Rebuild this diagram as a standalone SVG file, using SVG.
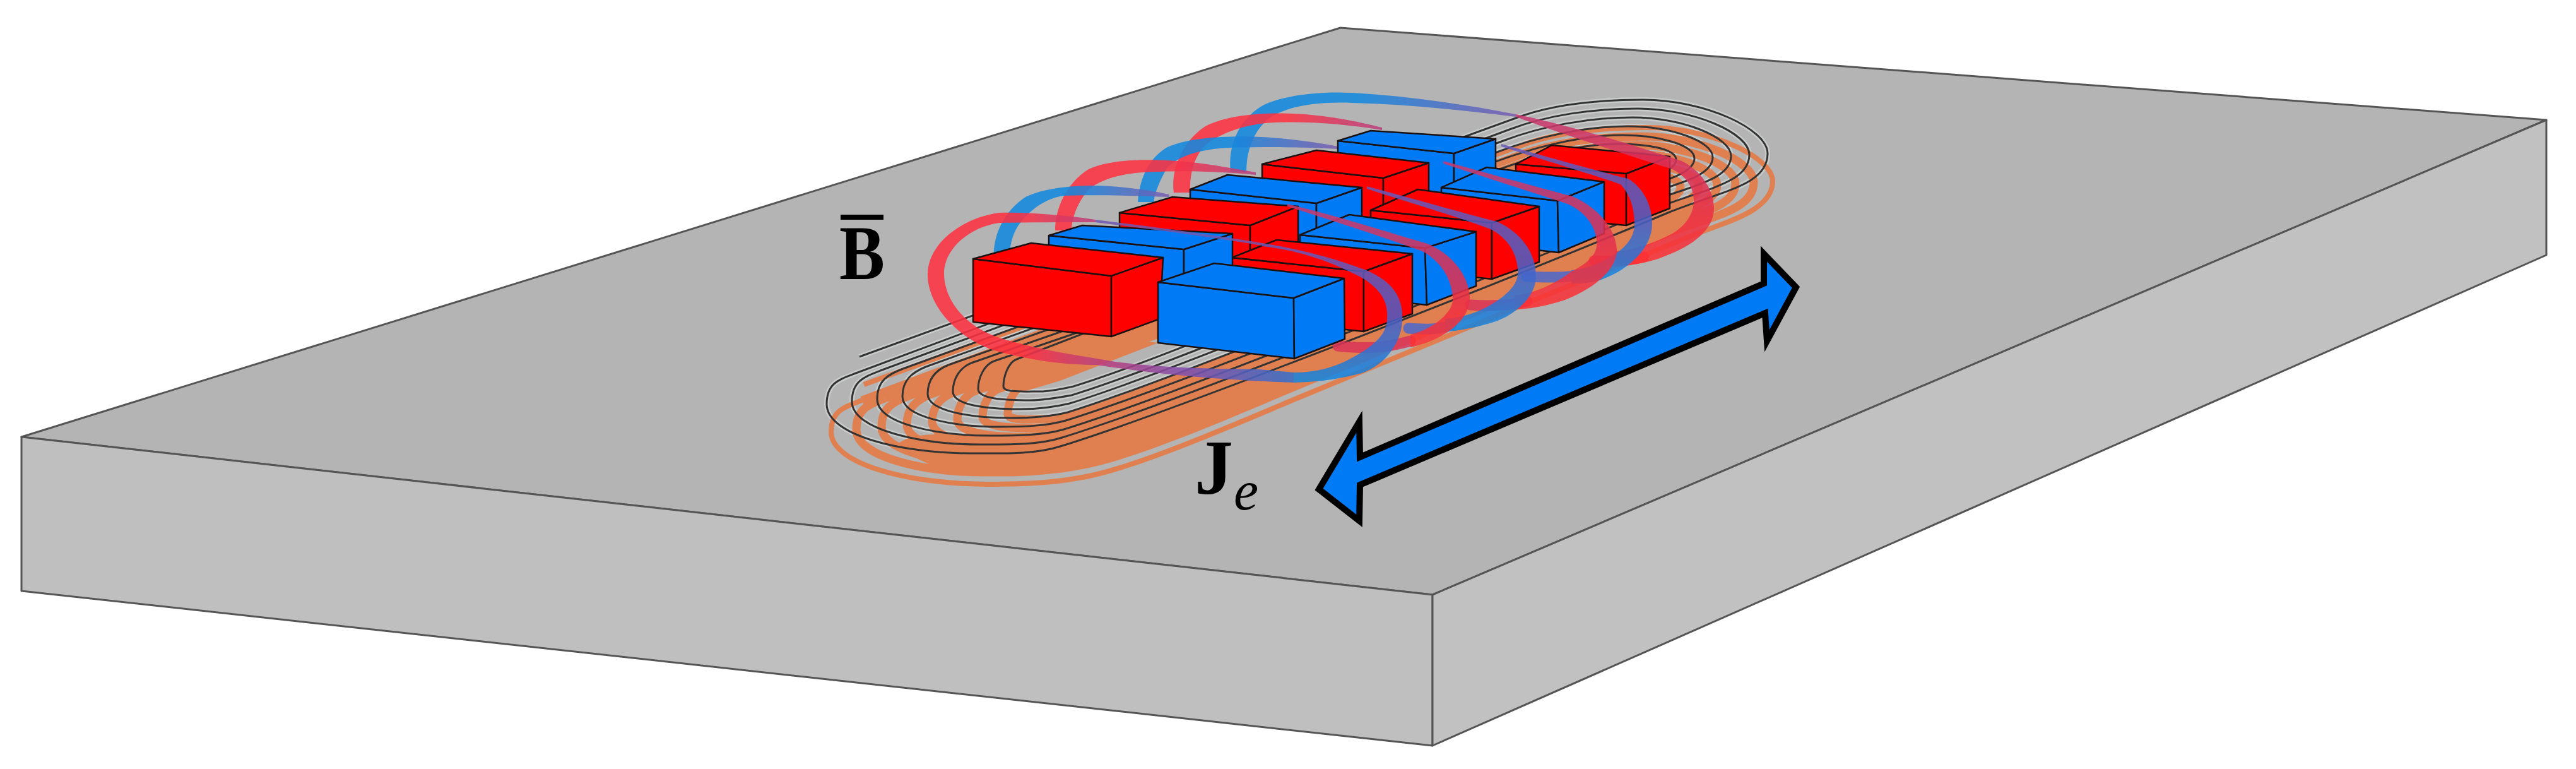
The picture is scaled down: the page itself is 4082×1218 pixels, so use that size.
<svg xmlns="http://www.w3.org/2000/svg" xmlns:xlink="http://www.w3.org/1999/xlink" width="4082" height="1218" viewBox="0 0 4082 1218">
<style>
.edge{stroke:#555;stroke-width:3;stroke-linejoin:round}
.r polygon{fill:#ff0000}
.b polygon{fill:#007af5}
.r polygon,.b polygon{stroke:#1a1010;stroke-width:2.5;stroke-linejoin:round}
.coil use{fill:none}
.halo use{stroke:#d2d4d4;stroke-width:8;opacity:.75}
.ow use{stroke:#e08050;stroke-width:13}
.orange{fill:#e08050}
.bl use{stroke:#333;stroke-width:3}
.loop{opacity:.86}
.tail{fill:none;stroke-width:17;stroke-linecap:round}
.lbl{font-family:"Liberation Serif",serif;fill:#000}
</style>
<defs>
<linearGradient id="r2c"><stop offset="0" stop-color="#ff3040"/><stop offset=".55" stop-color="#ff3040"/><stop offset="1" stop-color="#b84080"/></linearGradient>
<linearGradient id="b2p"><stop offset="0" stop-color="#1088e0"/><stop offset=".45" stop-color="#1088e0"/><stop offset="1" stop-color="#7a5cb0"/></linearGradient>
<linearGradient id="p2b" x2="0" y2="1"><stop offset="0" stop-color="#6a58b8"/><stop offset=".55" stop-color="#4a60c8"/><stop offset="1" stop-color="#1088e0"/></linearGradient>
<linearGradient id="m2r" x2="0" y2="1"><stop offset="0" stop-color="#c83a70"/><stop offset=".5" stop-color="#e03050"/><stop offset="1" stop-color="#ff3030"/></linearGradient>
<linearGradient id="c2b"><stop offset="0" stop-color="#c03a78"/><stop offset=".45" stop-color="#8050b0"/><stop offset="1" stop-color="#3070d0"/></linearGradient>
<path id="t0" d="M1359 590C1331 601 1310 605 1310 640C1310 690 1430 718 1537 718C1587 718 1640 720 1680 707C1830 661 2300 480 2643 337C2733 301 2801 293 2801 243C2801 205 2703 158 2603 158C2533 158 2462 164 2402 187L1362 565"/>
<path id="t1" d="M1395 587C1369 597 1350 604 1350 636C1350 680 1457 704 1553 704C1598 704 1646 705 1683 693C1833 647 2278 474 2621 331C2701 299 2772 290 2772 245C2772 211 2684 172 2595 172C2525 172 2452 182 2392 205L1359 590"/>
<path id="t2" d="M1431 584C1407 593 1390 603 1390 632C1390 671 1484 690 1569 690C1609 690 1652 690 1686 680C1836 634 2256 468 2599 325C2669 297 2743 287 2743 247C2743 217 2665 186 2587 186C2517 186 2442 200 2382 223L1395 587"/>
<path id="t3" d="M1467 581C1445 590 1430 602 1430 628C1430 661 1511 676 1585 676C1620 676 1658 675 1689 666C1839 620 2234 462 2577 319C2637 295 2714 284 2714 249C2714 223 2646 200 2579 200C2509 200 2432 218 2372 241L1431 584"/>
<path id="t4" d="M1503 578C1483 586 1470 601 1470 624C1470 651 1538 662 1601 662C1631 662 1664 660 1692 653C1842 607 2212 456 2555 313C2605 293 2685 281 2685 251C2685 229 2627 214 2571 214C2501 214 2422 236 2362 259L1467 581"/>
<path id="t5" d="M1539 575C1521 582 1510 600 1510 620C1510 642 1565 648 1617 648C1642 648 1670 645 1695 639C1845 593 2190 450 2533 307C2573 291 2656 278 2656 253C2656 235 2608 228 2563 228C2493 228 2412 254 2352 277L1503 578"/>
<path id="t6" d="M1575 572C1559 578 1550 599 1550 616C1550 632 1592 634 1633 634C1653 634 1676 630 1698 626C1848 580 2168 444 2511 301C2541 289 2627 275 2627 255C2627 241 2589 242 2555 242C2485 242 2402 272 2342 295L1539 575"/>
<path id="t7" d="M1790 500L1611 569C1597 574 1590 598 1590 612C1590 622 1619 620 1649 620C1664 620 1682 616 1701 612C1851 566 2146 438 2489 295C2509 287 2598 272 2598 257C2598 247 2570 256 2547 256C2477 256 2392 290 2332 313L1575 572"/>
</defs>

<g id="plate">
<polygon class="edge" fill="#b4b4b4" points="2124,44 4035,190 2270,942 34,692"/>
<polygon class="edge" fill="#bfbfbf" points="34,692 2270,942 2270,1181 34,936"/>
<polygon class="edge" fill="#c1c1c1" points="2270,942 4035,190 4035,404 2270,1181"/>
</g>

<g id="coil" class="coil">
<g class="halo">
<use xlink:href="#t0"/><use xlink:href="#t1"/><use xlink:href="#t2"/><use xlink:href="#t3"/><use xlink:href="#t4"/><use xlink:href="#t5"/><use xlink:href="#t6"/><use xlink:href="#t7"/>
</g>
<path fill="none" stroke="#e08050" stroke-width="8" d="M1366 634C1338 645 1317 650 1317 684C1317 734 1437 767 1566 767C1620 767 1670 765 1709 757C1790 745 1950 675 2050 633L2420 480L2689 370C2730 353 2809 335 2809 287C2809 249 2710 202 2610 202C2540 202 2469 208 2409 231L1369 609"/>
<path class="orange" d="M1420 705C1460 735 1510 754 1566 754C1620 754 1670 752 1709 744C1790 732 1950 662 2050 620L2420 467L2689 357L2660 320L1700 680L1569 690C1500 690 1450 680 1420 705Z"/>
<polygon class="orange" points="1594,610 1760,533 1835,543 1680,603 1623,620"/>
<g class="ow">
<use xlink:href="#t1" transform="translate(7,44)"/>
<use xlink:href="#t2" transform="translate(7,44)"/>
<use xlink:href="#t3" transform="translate(7,44)"/>
<use xlink:href="#t4" transform="translate(7,44)"/>
<use xlink:href="#t5" transform="translate(7,44)"/>
<use xlink:href="#t6" transform="translate(7,44)"/>
<use xlink:href="#t7" transform="translate(7,44)"/>
</g>
<g class="bl">
<use xlink:href="#t0"/><use xlink:href="#t1"/><use xlink:href="#t2"/><use xlink:href="#t3"/><use xlink:href="#t4"/><use xlink:href="#t5"/><use xlink:href="#t6"/><use xlink:href="#t7"/>
</g>
</g>

<g id="loops-under">
<path class="loop" fill="url(#b2p)" d="M1950 272C1945 230 1965 185 2005 165C2045 148 2100 145 2143 147C2230 152 2320 165 2402 181L2402 185C2320 175 2230 165 2143 163C2095 161 2050 166 2020 182C1990 198 1975 235 1975 272Z"/>
<path class="loop" fill="url(#r2c)" d="M1860 305C1855 270 1872 225 1910 200C1945 182 2000 178 2050 180C2100 182 2150 192 2190 202L2190 206C2130 196 2070 192 2020 194C1975 196 1935 210 1910 230C1890 250 1885 280 1886 305Z"/>
<path class="loop" fill="url(#b2p)" d="M1803 320C1805 285 1820 250 1850 233C1890 215 1960 215 2000 217C2050 220 2090 226 2120 232L2120 236C2060 232 2000 233 1950 234C1910 235 1870 245 1850 265C1838 285 1830 305 1828 320Z"/>
<path class="loop" fill="url(#r2c)" d="M1672 365C1672 330 1690 290 1725 268C1765 250 1830 252 1880 256C1920 260 1960 268 1990 273L1990 277C1950 273 1890 270 1840 272C1790 272 1750 280 1725 300C1708 320 1698 345 1698 365Z"/>
<path class="loop" fill="url(#b2p)" d="M1575 412C1572 375 1590 335 1625 312C1660 295 1720 292 1760 295C1800 298 1830 303 1853 308L1853 312C1800 310 1730 308 1685 310C1650 315 1615 345 1605 375C1600 390 1600 400 1600 412Z"/>
<path class="loop tail" stroke="#ff3038" d="M2605 407C2575 415 2550 415 2526 413"/>
<path class="loop tail" stroke="#4a68cc" d="M2537 430C2500 440 2460 440 2419 438"/>
<path class="loop tail" stroke="#d83458" d="M2420 477C2390 485 2360 485 2330 483"/>
<path class="loop tail" stroke="#4a68cc" d="M2300 515C2280 522 2260 522 2232 520"/>
<path class="loop tail" stroke="#d83458" d="M2235 540C2190 553 2160 552 2120 548"/>
</g>

<g id="magnets">
<g id="blue-6" class="b"><polygon points="2120,223 2304,243 2304,318 2120,298"/><polygon points="2304,243 2370,220 2370,295 2304,318"/><polygon points="2120,223 2172,207 2370,220 2304,243"/></g>
<g id="red-6" class="r"><polygon points="2402,260 2577,275 2577,357 2402,341"/><polygon points="2577,275 2646,248 2646,330 2577,357"/><polygon points="2402,260 2459,230 2646,248 2577,275"/></g>
<g id="blue-5" class="b"><polygon points="2284,297 2468,318 2470,400 2284,379"/><polygon points="2468,318 2542,288 2542,370 2470,400"/><polygon points="2284,297 2356,265 2542,288 2468,318"/></g>
<g id="red-5" class="r"><polygon points="2000,260 2192,282 2192,359 2000,337"/><polygon points="2192,282 2264,258 2264,335 2192,359"/><polygon points="2000,260 2086,238 2264,258 2192,282"/></g>
<g id="red-4" class="r"><polygon points="2172,333 2364,353 2364,442 2172,421"/><polygon points="2364,353 2439,327 2439,415 2364,442"/><polygon points="2172,333 2247,300 2439,327 2364,353"/></g>
<g id="blue-4" class="b"><polygon points="1886,300 2086,322 2086,400 1886,378"/><polygon points="2086,322 2158,297 2158,375 2086,400"/><polygon points="1886,300 1945,277 2158,297 2086,322"/></g>
<g id="blue-3" class="b"><polygon points="2060,372 2258,393 2261,483 2060,462"/><polygon points="2258,393 2339,367 2339,453 2261,483"/><polygon points="2060,372 2138,340 2339,367 2258,393"/></g>
<g id="red-3" class="r"><polygon points="1774,337 1981,357 1981,440 1774,420"/><polygon points="1981,357 2057,327 2057,410 1981,440"/><polygon points="1774,337 1858,312 2057,327 1981,357"/></g>
<g id="red-2" class="r"><polygon points="1952,408 2161,430 2161,525 1952,503"/><polygon points="2161,430 2238,402 2238,497 2161,525"/><polygon points="1952,408 2023,380 2238,402 2161,430"/></g>
<g id="blue-2" class="b"><polygon points="1662,373 1876,395 1876,483 1662,461"/><polygon points="1876,395 1953,370 1953,458 1876,483"/><polygon points="1662,373 1715,357 1953,370 1876,395"/></g>
<g id="red-1" class="r"><polygon points="1542,410 1761,437 1761,533 1542,510"/><polygon points="1761,437 1843,408 1838,505 1761,533"/><polygon points="1542,410 1634,385 1843,408 1761,437"/></g>
<g id="blue-1" class="b"><polygon points="1835,447 2050,472 2051,568 1835,543"/><polygon points="2050,472 2130,441 2131,537 2051,568"/><polygon points="1835,447 1924,417 2130,441 2050,472"/></g>
</g>

<g id="loops-over">
<path class="loop" fill="url(#m2r)" d="M2402 181C2470 195 2560 220 2665 255C2695 270 2716 300 2716 330C2716 365 2680 390 2640 405C2610 418 2580 420 2560 420L2560 398C2590 396 2620 385 2650 370C2675 355 2684 335 2684 318C2684 295 2670 278 2650 268C2560 240 2470 210 2402 185Z"/>
<path class="loop" fill="url(#p2b)" d="M2379 228C2440 245 2520 268 2580 283C2600 295 2618 320 2618 355C2618 390 2585 425 2540 442C2520 450 2500 448 2490 450L2490 428C2510 426 2530 420 2550 408C2578 392 2590 375 2590 355C2590 325 2580 305 2568 292C2520 275 2440 252 2379 232Z"/>
<path class="loop" fill="url(#m2r)" d="M2287 255C2350 272 2430 295 2492 311C2530 328 2560 360 2562 395C2563 425 2530 455 2480 475C2450 485 2420 490 2400 490L2400 468C2430 465 2465 450 2490 430C2520 415 2533 400 2530 380C2527 355 2510 335 2484 323C2430 305 2350 280 2287 259Z"/>
<path class="loop" fill="url(#p2b)" d="M2166 295C2240 315 2310 335 2372 351C2410 368 2434 400 2434 438C2434 470 2400 500 2367 510C2330 522 2300 525 2290 525L2290 505C2320 503 2350 492 2370 478C2395 462 2408 445 2405 425C2402 395 2385 375 2362 363C2300 340 2230 320 2166 299Z"/>
<path class="loop" fill="url(#m2r)" d="M2040 323C2130 345 2200 368 2262 386C2300 402 2327 435 2329 470C2331 500 2300 535 2235 550L2235 530C2270 522 2302 495 2302 475C2302 445 2285 415 2254 398C2190 375 2120 352 2040 327Z"/>
<g class="loop">
<path fill="url(#r2c)" d="M1736 348C1680 340 1630 336 1583 337C1525 345 1470 385 1470 435C1470 485 1520 540 1583 557C1640 572 1690 578 1738 578L1738 568C1690 560 1640 552 1590 537C1530 520 1496 475 1496 433C1496 395 1535 360 1583 353C1630 352 1680 352 1736 352Z"/>
<path fill="url(#c2b)" d="M1738 568C1800 580 1880 584 1996 585L2050 590L2050 606C2000 604 1880 600 1738 578Z"/>
<path fill="url(#p2b)" d="M2000 385C2080 398 2130 415 2165 428C2205 445 2225 470 2222 510C2220 545 2190 585 2150 593C2110 603 2080 605 2050 606L2050 590C2085 590 2115 582 2140 568C2175 550 2198 530 2198 505C2200 480 2190 460 2160 441C2120 420 2070 398 2000 390Z"/>
<path fill="none" stroke="#7058b0" stroke-width="4" d="M2000 387C1900 370 1800 358 1736 350"/>
</g>
</g>

<g id="current-arrow">
<polygon fill="#007af5" stroke="#000" stroke-width="10" stroke-miterlimit="12" points="2846,455 2795,402 2795,449 2155,724 2154,668 2090,775 2154,825 2155,768 2797,496 2800,540"/>
</g>

<g id="labels">
<text class="lbl" x="1330" y="442" font-size="122" font-weight="700" textLength="72" lengthAdjust="spacingAndGlyphs">B</text>
<rect x="1332" y="340" width="68" height="8" fill="#000"/>
<text class="lbl" x="1893" y="782" font-size="122" font-weight="700">J</text>
<text class="lbl" x="1955" y="807" font-size="88" font-style="italic">e</text>
</g>
</svg>
